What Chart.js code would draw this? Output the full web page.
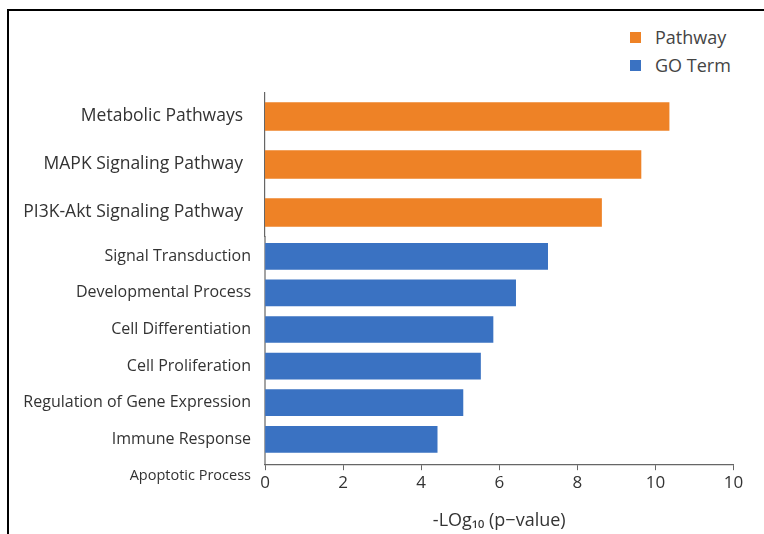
<!DOCTYPE html>
<html lang="en">
<head>
<meta charset="UTF-8" />
<title>Enrichment Analysis</title>
<script src="https://cdn.jsdelivr.net/npm/chart.js"></script>
<style>
  html, body {
    margin: 0;
    padding: 0;
    width: 764px;
    height: 534px;
    overflow: hidden;
    background: #fff;
    font-family: 'Open Sans', sans-serif;
  }
  .frame {
    position: absolute;
    left: 7px;
    top: 9px;
    width: 800px;
    height: 600px;
    border-left: 2px solid #000;
    border-top: 2px solid #000;
  }
  canvas { position: absolute; left: 0; display: block; }
  #pathwayChart { top: 72px; }
  #goChart { top: 200px; }
  .legend { position: absolute; left: 630px; top: 23px; color: #444; font-size: 18px; }
  .legend div { display: flex; align-items: center; height: 28px; }
  .legend span.box { width: 11px; height: 11px; margin-right: 14px; display: inline-block; }
</style>
</head>
<body>
<div class="frame"></div>
<div class="legend" id="legend"></div>
<canvas id="pathwayChart" width="764" height="185"></canvas>
<canvas id="goChart" width="764" height="334"></canvas>

<script>
  // data
  const pathwayLabels = ['Metabolic Pathways', 'MAPK Signaling Pathway', 'PI3K-Akt Signaling Pathway'];
  const pathwayValues = [10.35, 9.63, 8.62];

  const goLabels = ['Signal Transduction', 'Developmental Process', 'Cell Differentiation',
    'Cell Proliferation', 'Regulation of Gene Expression', 'Immune Response', 'Apoptotic Process'];
  const goValues = [7.24, 6.42, 5.84, 5.52, 5.07, 4.41, null];

  const xTickLabels = ['0', '2', '4', '6', '8', '10', '10'];
  const seriesNames = ['Pathway', 'GO Term'];

  const orange = '#EE8226';
  const blue = '#3A72C2';
  const textColor = '#333';
  const axisColor = '#666';
  const xAxisAt = 5.69; // x axis sits just under the last bar

  Chart.defaults.font.family = "'Open Sans', sans-serif";

  // legend
  const legend = document.getElementById('legend');
  [orange, blue].forEach((c, i) => {
    const row = document.createElement('div');
    row.innerHTML = `<span class="box" style="background:${c}"></span>${seriesNames[i]}`;
    legend.appendChild(row);
  });

  const xScale = {
    type: 'linear',
    min: 0,
    max: 12,
    ticks: {
      stepSize: 2,
      color: textColor,
      font: { size: 17 },
      padding: 3,
      callback: (v, i) => xTickLabels[i]
    },
    grid: { display: true, drawOnChartArea: false, tickLength: 5, color: axisColor },
    border: { color: axisColor, width: 1.2 }
  };

  // top chart: pathways
  new Chart(document.getElementById('pathwayChart'), {
    type: 'bar',
    data: {
      labels: pathwayLabels,
      datasets: [{ label: seriesNames[0], data: pathwayValues, backgroundColor: orange, barThickness: 28 }]
    },
    options: {
      indexAxis: 'y',
      responsive: false,
      animation: false,
      layout: { padding: { left: 0, right: 30.5, top: 20.5, bottom: 20.5 } },
      plugins: { legend: { display: false }, tooltip: { enabled: false } },
      scales: {
        x: Object.assign({}, xScale, { display: false }),
        y: {
          afterFit: s => { s.width = 265; },
          ticks: { color: textColor, font: { size: 17.5 }, padding: 0 },
          grid: { display: false, drawTicks: true, tickLength: 22 },
          border: { color: axisColor, width: 1.2 }
        }
      }
    }
  });

  // y axis line that stops at the x axis
  const yStub = {
    id: 'yStub',
    beforeDatasetsDraw(chart) {
      const { ctx, chartArea, scales } = chart;
      const bottom = scales.y.getPixelForValue(xAxisAt);
      ctx.save();
      ctx.strokeStyle = axisColor;
      ctx.lineWidth = 1.2;
      ctx.beginPath();
      ctx.moveTo(chartArea.left, chartArea.top - 2);
      ctx.lineTo(chartArea.left, bottom);
      ctx.stroke();
      ctx.restore();
    }
  };

  // bottom chart: GO terms
  new Chart(document.getElementById('goChart'), {
    type: 'bar',
    data: {
      labels: goLabels,
      datasets: [{ label: seriesNames[1], data: goValues, backgroundColor: blue, barThickness: 26 }]
    },
    options: {
      indexAxis: 'y',
      responsive: false,
      animation: false,
      layout: { padding: { left: 0, right: 30.5, top: 38, bottom: 39.8 } },
      plugins: { legend: { display: false }, tooltip: { enabled: false } },
      scales: {
        x: Object.assign({}, xScale, {
          position: { y: xAxisAt },
          title: {
            display: true,
            text: '-LOg₁₀ (p−value)',
            color: textColor,
            font: { size: 18 },
            padding: { top: 14, bottom: 4 }
          }
        }),
        y: {
          afterFit: s => { s.width = 265; },
          ticks: {
            color: textColor,
            padding: 0,
            font: c => ({ size: c.index === 6 ? 14.5 : 16 })
          },
          grid: { display: false, drawTicks: true, tickLength: 14 },
          border: { display: false }
        }
      }
    },
    plugins: [yStub]
  });
</script>
</body>
</html>
